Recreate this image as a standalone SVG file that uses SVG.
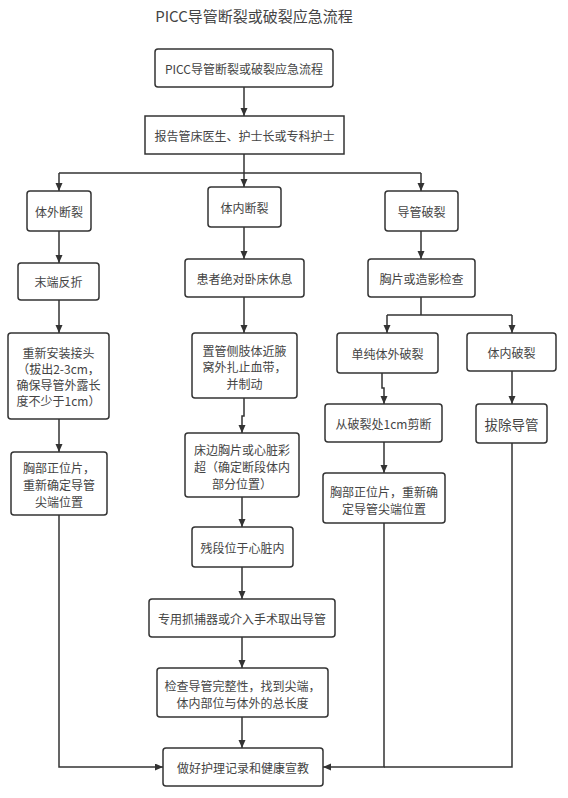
<svg xmlns="http://www.w3.org/2000/svg" width="568" height="798" viewBox="0 0 568 798">
<style>
.box{fill:#fff;stroke:#333;stroke-width:1.5}
.t{font-family:"Noto Sans CJK SC","Noto Sans",sans-serif;font-size:12px;fill:#444;text-anchor:middle;dominant-baseline:central}
.c{fill:none;stroke:#333;stroke-width:1.5}
</style>
<defs>
<marker id="ah" markerUnits="userSpaceOnUse" markerWidth="9" markerHeight="8" refX="8" refY="3.5" orient="auto">
<path d="M0,0 L8,3.5 L0,7 z" fill="#333"/>
</marker>
</defs>
<rect width="568" height="798" fill="#fff"/>
<text class="t" x="254" y="15" style="font-size:15px">PICC导管断裂或破裂应急流程</text>

<g id="connectors">
<path class="c" d="M244,87 V116" marker-end="url(#ah)"/>
<path class="c" d="M244,154 V187" marker-end="url(#ah)"/>
<path class="c" d="M59,173 H421"/>
<path class="c" d="M59,173 V191" marker-end="url(#ah)"/>
<path class="c" d="M421,173 V191" marker-end="url(#ah)"/>
<path class="c" d="M59,231 V263" marker-end="url(#ah)"/>
<path class="c" d="M59,300 V333" marker-end="url(#ah)"/>
<path class="c" d="M59,419 V452" marker-end="url(#ah)"/>
<path class="c" d="M59,515 V767 H163" marker-end="url(#ah)"/>
<path class="c" d="M244,227 V259" marker-end="url(#ah)"/>
<path class="c" d="M244,297 V333" marker-end="url(#ah)"/>
<path class="c" d="M244,398 V416 H242 V433" marker-end="url(#ah)"/>
<path class="c" d="M242,497 V527" marker-end="url(#ah)"/>
<path class="c" d="M242,567 V599" marker-end="url(#ah)"/>
<path class="c" d="M242,637 V668" marker-end="url(#ah)"/>
<path class="c" d="M242,717 V748" marker-end="url(#ah)"/>
<path class="c" d="M421,231 V259" marker-end="url(#ah)"/>
<path class="c" d="M421,297 V315"/>
<path class="c" d="M387,315 H512"/>
<path class="c" d="M387,315 V333" marker-end="url(#ah)"/>
<path class="c" d="M512,315 V333" marker-end="url(#ah)"/>
<path class="c" d="M382,373 V388 H384 V404" marker-end="url(#ah)"/>
<path class="c" d="M384,442 V473" marker-end="url(#ah)"/>
<path class="c" d="M512,371 V404" marker-end="url(#ah)"/>
<path class="c" d="M512,443 V767 H384"/>
<path class="c" d="M384,523 V767 H323" marker-end="url(#ah)"/>
</g>

<g id="n1"><rect class="box" x="155" y="49" width="178" height="38" rx="3"/><text class="t" x="244" y="68">PICC导管断裂或破裂应急流程</text></g>
<g id="n2"><rect class="box" x="145" y="116" width="199" height="38"/><text class="t" x="244.5" y="135">报告管床医生、护士长或专科护士</text></g>
<g id="n3"><rect class="box" x="27" y="191" width="64" height="40" rx="3"/><text class="t" x="59" y="211">体外断裂</text></g>
<g id="n4"><rect class="box" x="208" y="187" width="73" height="40" rx="3"/><text class="t" x="244.5" y="207">体内断裂</text></g>
<g id="n5"><rect class="box" x="385" y="191" width="73" height="40" rx="3"/><text class="t" x="421.5" y="211">导管破裂</text></g>
<g id="n6"><rect class="box" x="18" y="263" width="81" height="37" rx="3"/><text class="t" x="58.5" y="281.5">末端反折</text></g>
<g id="n7"><rect class="box" x="185" y="259" width="119" height="38" rx="3"/><text class="t" x="244.5" y="278">患者绝对卧床休息</text></g>
<g id="n8"><rect class="box" x="368" y="259" width="107" height="38" rx="3"/><text class="t" x="421.5" y="278">胸片或造影检查</text></g>
<g id="n9"><rect class="box" x="8" y="333" width="101" height="86" rx="3"/><text class="t"><tspan x="58.5" y="352">重新安装接头</tspan><tspan x="58.5" y="368">（拔出2-3cm，</tspan><tspan x="58.5" y="384">确保导管外露长</tspan><tspan x="58.5" y="400">度不少于1cm）</tspan></text></g>
<g id="n10"><rect class="box" x="192" y="333" width="105" height="65" rx="3"/><text class="t"><tspan x="244.5" y="349.5">置管侧肢体近腋</tspan><tspan x="244.5" y="366">窝外扎止血带，</tspan><tspan x="244.5" y="382.5">并制动</tspan></text></g>
<g id="n11"><rect class="box" x="185" y="433" width="114" height="64" rx="3"/><text class="t"><tspan x="242" y="448.5">床边胸片或心脏彩</tspan><tspan x="242" y="465.5">超（确定断段体内</tspan><tspan x="242" y="482.5">部分位置）</tspan></text></g>
<g id="n12"><rect class="box" x="192" y="527" width="101" height="40" rx="3"/><text class="t" x="242.5" y="547">残段位于心脏内</text></g>
<g id="n13"><rect class="box" x="149" y="599" width="186" height="38" rx="3"/><text class="t" x="242" y="618">专用抓捕器或介入手术取出导管</text></g>
<g id="n14"><rect class="box" x="157" y="668" width="171" height="49" rx="3"/><text class="t"><tspan x="242.5" y="684.5">检查导管完整性，找到尖端，</tspan><tspan x="242.5" y="701.5">体内部位与体外的总长度</tspan></text></g>
<g id="n15"><rect class="box" x="163" y="748" width="160" height="38" rx="3"/><text class="t" x="243" y="767">做好护理记录和健康宣教</text></g>
<g id="n16"><rect class="box" x="11" y="452" width="96" height="63" rx="3"/><text class="t"><tspan x="59" y="467">胸部正位片，</tspan><tspan x="59" y="484">重新确定导管</tspan><tspan x="59" y="501">尖端位置</tspan></text></g>
<g id="n17"><rect class="box" x="337" y="333" width="101" height="40" rx="3"/><text class="t" x="387.5" y="353">单纯体外破裂</text></g>
<g id="n18"><rect class="box" x="467" y="333" width="89" height="38" rx="3"/><text class="t" x="511.5" y="352">体内破裂</text></g>
<g id="n19"><rect class="box" x="325" y="404" width="117" height="38" rx="3"/><text class="t" x="383.5" y="423">从破裂处1cm剪断</text></g>
<g id="n20"><rect class="box" x="476" y="404" width="71" height="39" rx="3"/><text class="t" x="511.5" y="423.5" style="font-size:13.5px">拔除导管</text></g>
<g id="n21"><rect class="box" x="323" y="473" width="122" height="50" rx="3"/><text class="t"><tspan x="384" y="491">胸部正位片，重新确</tspan><tspan x="384" y="508">定导管尖端位置</tspan></text></g>
</svg>
